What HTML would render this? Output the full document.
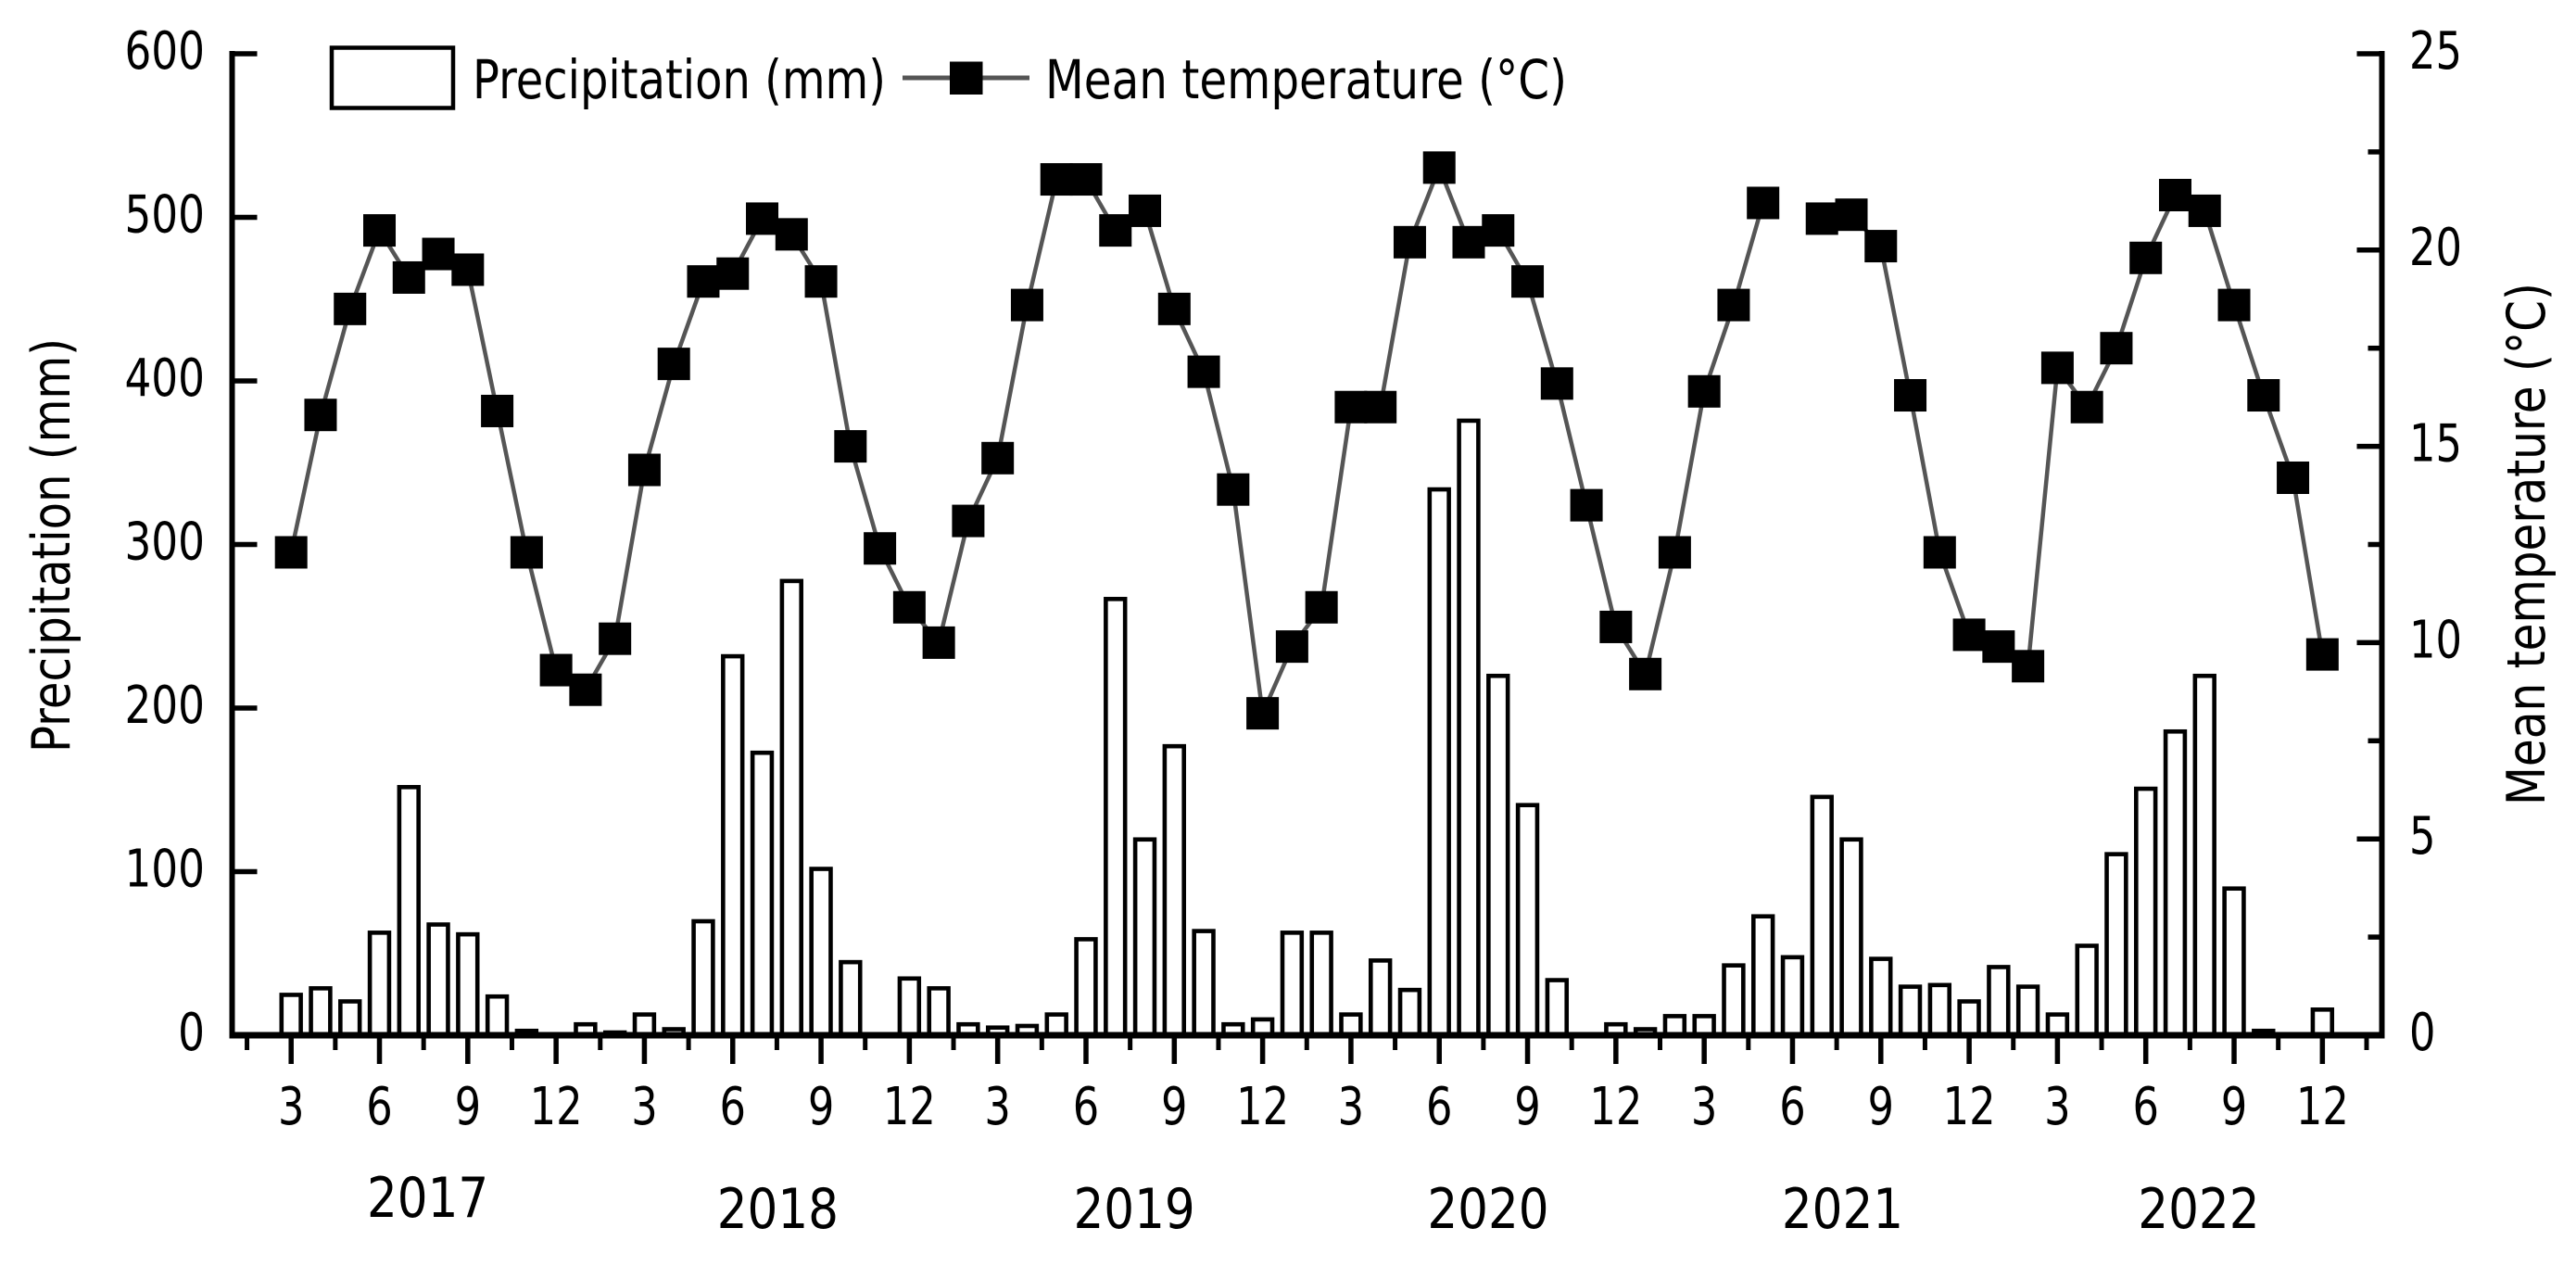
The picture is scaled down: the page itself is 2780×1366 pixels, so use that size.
<!DOCTYPE html>
<html lang="en">
<head>
<meta charset="utf-8">
<title>Precipitation and mean temperature, 2017-2022</title>
<style>
html,body{margin:0;padding:0;background:#fff;width:2780px;height:1366px;overflow:hidden}
svg{display:block}
text{font-family:"DejaVu Sans","Liberation Sans",sans-serif;fill:#000}
</style>
</head>
<body>
<svg id="chart" xmlns="http://www.w3.org/2000/svg" width="2780" height="1366" viewBox="0 0 2780 1366">
  <rect x="0" y="0" width="2780" height="1366" fill="#fff"/>
  <g id="bars"></g>
  <g id="axes"></g>
  <g id="line"></g>
  <g>
    <rect x="358" y="51.5" width="131" height="65" fill="#fff" stroke="#000" stroke-width="4.5"/>
    <text x="510" y="106" font-size="58" textLength="446" lengthAdjust="spacingAndGlyphs">Precipitation (mm)</text>
    <line x1="974" y1="84" x2="1111" y2="84" stroke="#555" stroke-width="5"/>
    <rect x="1025" y="66.5" width="35.5" height="35.5" fill="#000"/>
    <text x="1128" y="106" font-size="58" textLength="563" lengthAdjust="spacingAndGlyphs">Mean temperature (°C)</text>
  </g>
  <text transform="translate(75,812) rotate(-90)" font-size="57" textLength="447" lengthAdjust="spacingAndGlyphs">Precipitation (mm)</text>
  <text transform="translate(2746,869) rotate(-90)" font-size="57" textLength="564" lengthAdjust="spacingAndGlyphs">Mean temperature (°C)</text>
</svg>
<script>
// Monthly values from March 2017 to December 2022
const precipitation = [
  24,28,20,62,151,67,61,23,2,0,
  6,1,12,3,69,231,172,277,101,44,0,34,
  28,6,4,5,12,58,266,119,176,63,6,9,
  62,62,12,45,27,333,375,219,140,33,0,6,
  3,11,11,42,72,47,145,119,46,29,30,20,
  41,29,12,54,110,150,185,219,89,2,0,15
];
const temperature = [
  12.3,15.8,18.5,20.5,19.3,19.9,19.5,15.9,12.3,9.3,
  8.8,10.1,14.4,17.1,19.2,19.4,20.8,20.4,19.2,15.0,12.4,10.9,
  10.0,13.1,14.7,18.6,21.8,21.8,20.5,21.0,18.5,16.9,13.9,8.2,
  9.9,10.9,16.0,16.0,20.2,22.1,20.2,20.5,19.2,16.6,13.5,10.4,
  9.2,12.3,16.4,18.6,21.2,null,20.8,20.9,20.1,16.3,12.3,10.2,
  9.9,9.4,17.0,16.0,17.5,19.8,21.4,21.0,18.6,16.3,14.2,9.7
];
const monthLabels = ['3','6','9','12'];
const leftTicks = [0,100,200,300,400,500,600];
const rightTicks = [0,5,10,15,20,25];
const rightMinorTicks = [2.5,7.5,12.5,17.5,22.5];
const yearLabels = ['2017','2018','2019','2020','2021','2022'];
const yearOffsets = [4.64,16.53,28.64,40.66,52.7,64.8];

const NS = 'http://www.w3.org/2000/svg';
const plot = {left:250.5, right:2570.5, top:58, bottom:1117, first:314.2, step:31.77};
const xAt = i => plot.first + plot.step * i;
const yLeft = v => plot.bottom - (v / 600) * (plot.bottom - plot.top);
const yRight = v => plot.bottom - (v / 25) * (plot.bottom - plot.top);

function make(parent, tag, name, attrs) {
  const el = document.createElementNS(NS, tag);
  for (const k in attrs) el.setAttribute(k, attrs[k]);
  
  
  parent.appendChild(el);
  return el;
}
function line(parent, name, x1, y1, x2, y2, w, color) {
  return make(parent, 'line', name, {x1, y1, x2, y2, stroke: color || '#000', 'stroke-width': w});
}
function label(parent, name, str, x, y, size, sx, anchor) {
  const t = make(parent, 'text', name, {
    transform: 'translate(' + x + ',' + y + ') scale(' + sx + ',1)',
    'font-size': size, 'text-anchor': anchor
  });
  t.textContent = str;
  return t;
}

const barsG = document.getElementById('bars');
const axesG = document.getElementById('axes');
const lineG = document.getElementById('line');

// Bars
precipitation.forEach((v, i) => {
  if (v <= 0) return;
  const top = yLeft(v) - 1.2;
  make(barsG, 'rect', 'precipitation-bar', {
    x: xAt(i) - 10.4, y: top, width: 20.8, height: plot.bottom - top,
    fill: '#fff', stroke: '#000', 'stroke-width': 4.6
  });
});

// Axis lines
line(axesG, 'left-axis-line', plot.left, plot.top - 3, plot.left, plot.bottom + 3, 6);
line(axesG, 'right-axis-line', plot.right, plot.top - 3, plot.right, plot.bottom + 3, 6);
line(axesG, 'x-axis-line', plot.left - 3, plot.bottom, plot.right + 3, plot.bottom, 7);

// Left ticks
leftTicks.forEach(v => {
  const y = yLeft(v);
  line(axesG, 'left-tick', plot.left, y, plot.left + 27, y, 5.5);
  label(axesG, 'left-tick-label', String(v), 221, y + 16, 56, 0.81, 'end');
});

// Right ticks
rightTicks.forEach(v => {
  const y = yRight(v);
  line(axesG, 'right-tick', plot.right, y, plot.right - 27, y, 5.5);
  label(axesG, 'right-tick-label', String(v), 2600, y + 16, 56, 0.8, 'start');
});
rightMinorTicks.forEach(v => {
  const y = yRight(v);
  line(axesG, 'right-minor-tick', plot.right, y, plot.right - 15, y, 5.5);
});

// Bottom ticks
for (let k = 0; k < 24; k++) {
  const i = k * 3;
  const x = xAt(i);
  line(axesG, 'x-major-tick', x, plot.bottom, x, 1148, 5.5);
  label(axesG, 'x-tick-label', monthLabels[k % 4], x, 1213, 56, 0.8, 'middle');
}
for (let k = 0; k < 25; k++) {
  const x = xAt(k * 3 - 1.5);
  line(axesG, 'x-minor-tick', x, plot.bottom, x, 1133, 5);
}

// Year labels
yearLabels.forEach((yr, k) => {
  const base = k === 0 ? 1313 : 1325;
  label(axesG, 'year-label', yr, xAt(yearOffsets[k]), base, 60, 0.86, 'middle');
});

// Temperature line, broken at missing months
let seg = [];
function flush() {
  if (seg.length > 1) {
    make(lineG, 'polyline', 'temperature-line', {
      points: seg.join(' '), fill: 'none', stroke: '#555', 'stroke-width': 4.5, 'stroke-linejoin': 'round'
    });
  }
  seg = [];
}
temperature.forEach((v, i) => {
  if (v === null) { flush(); return; }
  seg.push(xAt(i) + ',' + yRight(v));
});
flush();
temperature.forEach((v, i) => {
  if (v === null) return;
  make(lineG, 'rect', 'temperature-marker', {
    x: xAt(i) - 17.5, y: yRight(v) - 17.5, width: 35, height: 35, fill: '#000'
  });
});
</script>
</body>
</html>
